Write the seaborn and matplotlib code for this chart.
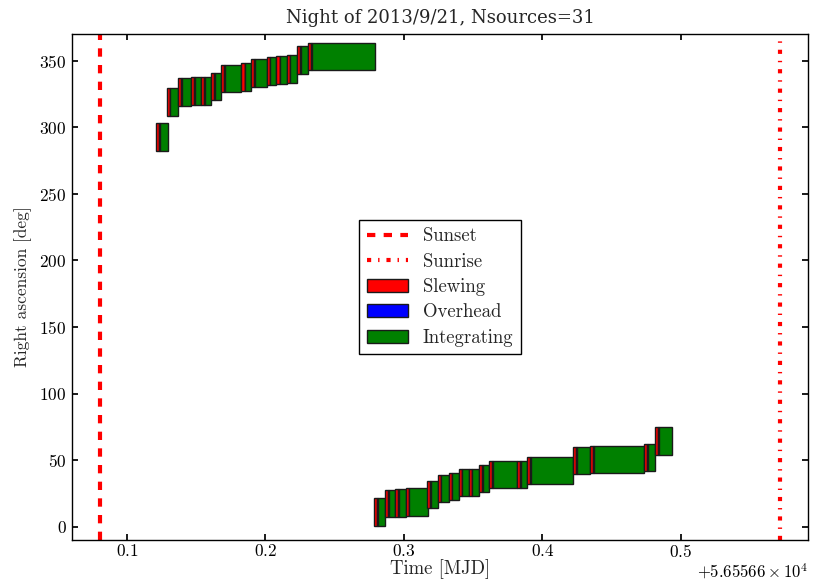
import matplotlib
matplotlib.use("Agg")
import matplotlib.pyplot as plt
import matplotlib.patches as mpatches
from matplotlib.lines import Line2D
import seaborn as sns

# 観測の夜のデータ（MJD = MJD_OFFSET + 端数）
MJD_OFFSET = 56556.6
sunset = 0.0803
sunrise = 0.5720

# 各ソースの開始・終了時刻（端数部分）
t_start = [0.1211, 0.1288, 0.1368, 0.1465, 0.1537, 0.1610, 0.1682, 0.1827,
           0.1899, 0.2008, 0.2080, 0.2153, 0.2230, 0.2309,
           0.2785, 0.2865, 0.2937, 0.3014, 0.3167, 0.3243, 0.3323, 0.3395,
           0.3468, 0.3545, 0.3617, 0.3818, 0.3891, 0.4221, 0.4344, 0.4735,
           0.4815]
t_end = [0.1295, 0.1368, 0.1465, 0.1537, 0.1610, 0.1682, 0.1827, 0.1899,
         0.2008, 0.2080, 0.2153, 0.2230, 0.2309, 0.2792,
         0.2865, 0.2937, 0.3014, 0.3174, 0.3243, 0.3323, 0.3395, 0.3468,
         0.3545, 0.3617, 0.3818, 0.3891, 0.4221, 0.4344, 0.4735, 0.4815,
         0.4933]
# 赤経の範囲 [deg]
ra_lo = [282.5, 308.8, 316.3, 317.0, 317.0, 320.8, 326.3, 327.5, 330.5,
         332.0, 332.5, 333.0, 340.0, 343.0,
         0.8, 7.0, 7.5, 7.7, 14.0, 18.2, 19.7, 22.7, 23.2, 25.7, 29.0, 29.0,
         32.2, 39.5, 40.7, 41.5, 54.0]
ra_hi = [303.0, 329.5, 337.0, 337.5, 338.0, 341.2, 347.0, 348.3, 351.3,
         353.0, 353.5, 354.3, 361.2, 363.7,
         21.5, 27.7, 28.3, 29.0, 34.5, 38.7, 40.7, 43.2, 43.7, 46.0, 49.7,
         49.7, 52.7, 59.7, 60.7, 62.2, 74.7]
slew_time = 0.0022
overhead_time = 0.0004

sns.set_theme(style="ticks")
plt.rcParams['font.family'] = ['cmr10', 'DejaVu Serif']
plt.rcParams['mathtext.fontset'] = 'cm'
plt.rcParams['axes.formatter.use_mathtext'] = True
plt.rcParams['axes.unicode_minus'] = False
plt.rcParams['lines.scale_dashes'] = False
plt.rcParams['lines.dashed_pattern'] = [6, 6]
plt.rcParams['lines.dashdot_pattern'] = [3, 5, 1, 5]
plt.rcParams['xtick.direction'] = 'in'
plt.rcParams['ytick.direction'] = 'in'
plt.rcParams['xtick.top'] = True
plt.rcParams['ytick.right'] = True
plt.rcParams['xtick.major.size'] = 4
plt.rcParams['ytick.major.size'] = 4
plt.rcParams['xtick.major.pad'] = 2.5
plt.rcParams['ytick.major.pad'] = 4
plt.rcParams['axes.edgecolor'] = 'black'
plt.rcParams['axes.linewidth'] = 1.0
plt.rcParams['xtick.color'] = 'black'
plt.rcParams['ytick.color'] = 'black'

fig = plt.figure(figsize=(8.18, 5.8), dpi=100)
ax = fig.add_axes([0.088, 0.069, 0.900, 0.872])

# 各ソース：スルー（赤）→ オーバーヘッド（青）→ 積分（緑）
for s, e, lo, hi in zip(t_start, t_end, ra_lo, ra_hi):
    h = hi - lo
    x0 = MJD_OFFSET + s
    ax.bar(x0, h, width=slew_time, bottom=lo, align='edge',
           color='#ff0000', edgecolor='k', linewidth=1)
    ax.bar(x0 + slew_time, h, width=overhead_time, bottom=lo, align='edge',
           color='#0000ff', edgecolor='k', linewidth=1)
    x1 = x0 + slew_time + overhead_time
    ax.bar(x1, h, width=MJD_OFFSET + e - x1, bottom=lo, align='edge',
           color='#008000', edgecolor='k', linewidth=1)

ax.axvline(MJD_OFFSET + sunset, color='#ff0000', linestyle='--', linewidth=3)
ax.axvline(MJD_OFFSET + sunrise, color='#ff0000', linestyle='-.', linewidth=3)

ax.set_xlim(MJD_OFFSET + sunset - 0.02, MJD_OFFSET + sunrise + 0.02)
ax.set_ylim(-10, 370)
ax.ticklabel_format(axis='x', useOffset=MJD_OFFSET)
ax.tick_params(labelsize=12.5)
ax.xaxis.OFFSETTEXTPAD = 0.5
ax.xaxis.get_offset_text().set_fontsize(12)

ax.set_xlabel("Time [MJD]", fontsize=13.5, labelpad=-1)
ax.set_ylabel("Right ascension [deg]", fontsize=12.5, labelpad=5)
ax.set_title("Night of 2013/9/21, Nsources=31", fontsize=13, pad=8,
             family='DejaVu Serif')

handles = [
    Line2D([], [], color='#ff0000', linestyle='--', linewidth=3),
    Line2D([], [], color='#ff0000', linestyle='-.', linewidth=3),
    mpatches.Patch(facecolor='#ff0000', edgecolor='k'),
    mpatches.Patch(facecolor='#0000ff', edgecolor='k'),
    mpatches.Patch(facecolor='#008000', edgecolor='k'),
]
labels = ["Sunset", "Sunrise", "Slewing", "Overhead", "Integrating"]
leg = ax.legend(handles, labels, loc='center', fontsize=13.5, fancybox=False,
                framealpha=1, edgecolor='black', labelspacing=0.4,
                handlelength=2.2)
leg.get_frame().set_linewidth(1.0)

fig.savefig("out.png", dpi=100)
